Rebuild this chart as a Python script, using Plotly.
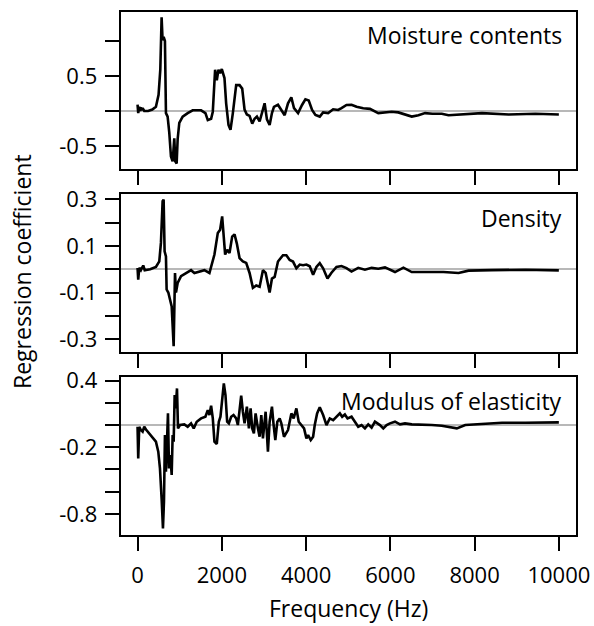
import plotly.graph_objects as go

# ---------------- data ----------------
freq_mc = [0, 16, 40, 60, 80, 100, 120, 159, 250, 350, 436, 499, 540, 571, 594, 619, 650, 674,
           714, 753, 793, 833, 872, 896, 928, 952, 991, 1071, 1190, 1309, 1508, 1611, 1667, 1746,
           1786, 1841, 1881, 1921, 1960, 2000, 2063, 2103, 2159, 2206, 2262, 2341, 2421, 2484,
           2540, 2595, 2659, 2722, 2778, 2833, 2897, 2960, 3016, 3071, 3135, 3190, 3238, 3333,
           3413, 3492, 3571, 3650, 3714, 3810, 3904, 3984, 4063, 4143, 4222, 4325, 4405, 4524,
           4643, 4762, 4841, 4960, 5079, 5198, 5357, 5516, 5714, 5873, 6032, 6190, 6310, 6508,
           6667, 6825, 7000, 7222, 7381, 7698, 8175, 8810, 9444, 10000]
coef_mc = [0.09, -0.03, 0.06, 0.0, 0.05, 0.01, 0.04, 0.0, 0.0, 0.02, 0.06, 0.23, 0.59, 1.34, 1.01,
           1.06, 1.0, -0.03, -0.08, -0.31, -0.65, -0.72, -0.39, -0.72, -0.75, -0.4, -0.17, -0.08,
           -0.03, 0.01, 0.01, -0.03, -0.13, -0.11, -0.01, 0.59, 0.44, 0.59, 0.54, 0.6, 0.47, 0.11,
           -0.2, -0.27, -0.03, 0.37, 0.37, 0.32, 0.02, -0.05, -0.07, -0.18, -0.11, -0.08, -0.15,
           0.01, 0.11, -0.12, -0.2, -0.03, 0.06, 0.09, 0.01, -0.06, 0.11, 0.195, 0.04, -0.03,
           0.086, 0.167, 0.15, 0.014, -0.057, -0.08, -0.02, -0.03, 0.024, 0.014, 0.04, 0.086,
           0.09, 0.06, 0.04, 0.03, -0.03, -0.02, -0.01, -0.02, -0.04, -0.08, -0.06, -0.03, -0.04,
           -0.04, -0.06, -0.045, -0.03, -0.05, -0.04, -0.05]

freq_den = [0, 16, 40, 79, 135, 170, 300, 436, 516, 555, 595, 619, 642, 674, 690, 730, 770, 810,
            857, 889, 912, 952, 1032, 1151, 1270, 1349, 1468, 1587, 1706, 1825, 1905, 1960, 2008,
            2048, 2079, 2127, 2183, 2246, 2302, 2357, 2421, 2500, 2579, 2659, 2738, 2817, 2897,
            2976, 3040, 3135, 3190, 3254, 3333, 3452, 3532, 3611, 3690, 3770, 3849, 3929, 4008,
            4087, 4167, 4246, 4325, 4405, 4508, 4603, 4722, 4841, 4960, 5079, 5238, 5397, 5556,
            5714, 5873, 6111, 6310, 6508, 6905, 7262, 7619, 7857, 8413, 9206, 10000]
coef_den = [0.006, -0.045, 0.006, -0.004, 0.016, -0.004, 0.0, 0.01, 0.034, 0.113, 0.292, 0.299,
            0.077, 0.055, -0.087, -0.10, -0.13, -0.16, -0.33, -0.016, -0.10, -0.059, -0.03,
            -0.016, -0.004, -0.016, -0.01, -0.004, -0.016, 0.063, 0.156, 0.17, 0.227, 0.14, 0.063,
            0.084, 0.07, 0.14, 0.15, 0.11, 0.048, 0.034, 0.027, -0.016, -0.08, -0.07, -0.075,
            -0.004, -0.016, -0.10, -0.04, -0.033, 0.033, 0.06, 0.06, 0.04, 0.033, 0.004, 0.02,
            0.017, 0.02, 0.013, -0.024, 0.01, 0.026, 0.004, -0.04, -0.015, 0.01, 0.014, 0.005,
            -0.01, 0.006, -0.002, 0.006, 0.002, 0.008, -0.012, 0.007, -0.012, -0.012, -0.012,
            -0.016, -0.006, -0.004, -0.002, -0.005]

freq_moe = [0, 16, 40, 79, 120, 159, 200, 278, 357, 436, 492, 532, 571, 603, 627, 650, 674, 698,
            722, 746, 777, 810, 833, 857, 881, 905, 936, 960, 1008, 1111, 1190, 1270, 1333, 1405,
            1508, 1611, 1667, 1706, 1746, 1786, 1825, 1881, 1929, 1968, 2008, 2048, 2087, 2127,
            2167, 2222, 2278, 2341, 2381, 2421, 2460, 2500, 2540, 2595, 2643, 2683, 2722, 2762,
            2802, 2857, 2897, 2937, 2976, 3040, 3095, 3135, 3190, 3230, 3270, 3318, 3373, 3413,
            3476, 3571, 3651, 3706, 3770, 3825, 3889, 3952, 4008, 4048, 4111, 4167, 4206, 4262,
            4325, 4405, 4484, 4563, 4643, 4722, 4802, 4857, 4921, 4984, 5079, 5159, 5238, 5317,
            5397, 5476, 5556, 5635, 5754, 5833, 5913, 5992, 6111, 6230, 6349, 6508, 6746, 6984,
            7222, 7381, 7579, 7778, 8016, 8333, 8651, 9206, 9762, 10000]
coef_moe = [-0.015, -0.30, -0.015, -0.045, -0.06, -0.015, -0.04, -0.075, -0.105, -0.15, -0.24,
            -0.39, -0.66, -0.93, -0.69, -0.09, -0.42, -0.21, 0.105, -0.39, -0.27, -0.45, -0.09,
            -0.15, 0.27, 0.15, 0.33, -0.03, 0.0, 0.006, -0.015, 0.015, -0.03, 0.03, 0.06, 0.075,
            0.135, 0.09, 0.174, 0.06, -0.15, -0.17, 0.03, 0.075, 0.24, 0.375, 0.27, 0.03, 0.015,
            0.075, 0.09, 0.06, 0.0, 0.12, 0.264, 0.12, 0.015, 0.165, -0.03, 0.15, -0.03, -0.075,
            0.105, -0.03, -0.105, 0.09, -0.12, 0.12, -0.24, 0.03, 0.165, 0.0, -0.135, 0.03, 0.06,
            0.015, -0.105, -0.045, 0.105, 0.06, 0.15, 0.03, 0.0, -0.03, -0.12, -0.09, -0.135,
            -0.105, 0.0, 0.105, 0.16, 0.09, 0.0, 0.06, 0.045, 0.075, 0.105, 0.075, 0.095, 0.06,
            0.075, 0.03, -0.015, 0.0, -0.03, 0.006, -0.024, 0.03, 0.0, -0.03, 0.0, 0.015, 0.03,
            0.006, 0.015, 0.006, 0.006, 0.0, -0.006, -0.015, -0.03, 0.0, 0.006, 0.015, 0.021,
            0.021, 0.024, 0.024]

x_ticks = [0, 2000, 4000, 6000, 8000, 10000]
x_ticktext = ["0", "2000", "4000", "6000", "8000", "10000"]

mc_ticks = [-0.5, 0, 0.5, 1.0]
mc_ticktext = ["-0.5", "", "0.5", ""]
den_ticks = [-0.3, -0.2, -0.1, 0, 0.1, 0.2, 0.3]
den_ticktext = ["-0.3", "", "-0.1", "", "0.1", "", "0.3"]
moe_ticks = [-0.8, -0.6, -0.4, -0.2, 0, 0.2, 0.4]
moe_ticktext = ["-0.8", "", "", "-0.2", "", "", "0.4"]

panel_labels = ["Moisture contents", "Density", "Modulus of elasticity"]
x_title = "Frequency (Hz)"
y_title = "Regression coefficient"

# ---------------- figure ----------------
W, H = 594, 626
FONT = "Open Sans"


def fx(p):
    return p / W


def fy(p):
    return 1 - p / H


xdom = [fx(120.7), fx(575.7)]
ydoms = [[fy(169), fy(11.7)], [fy(351.7), fy(194)], [fy(535), fy(377.3)]]
yranges = [[-0.829, 1.419], [-0.354, 0.323], [-0.99, 0.43]]
series = [(freq_mc, coef_mc), (freq_den, coef_den), (freq_moe, coef_moe)]
yticks = [(mc_ticks, mc_ticktext), (den_ticks, den_ticktext), (moe_ticks, moe_ticktext)]
label_y = [35, 218, 401]

fig = go.Figure()
layout = dict(
    width=W, height=H,
    margin=dict(l=0, r=0, t=0, b=0, autoexpand=False),
    paper_bgcolor="white", plot_bgcolor="white",
    showlegend=False,
    font=dict(family=FONT, size=22, color="black"),
)

annotations = []
for i, ((fx_, fy_), (tv, tt)) in enumerate(zip(series, yticks)):
    n = "" if i == 0 else str(i + 1)
    fig.add_trace(go.Scatter(x=fx_, y=fy_, mode="lines",
                             line=dict(color="black", width=2.6),
                             xaxis="x" + n, yaxis="y" + n, hoverinfo="skip"))
    layout["xaxis" + n] = dict(
        domain=xdom, anchor="y" + n, range=[-400, 10400],
        tickvals=x_ticks, ticktext=x_ticktext, showticklabels=(i == 2),
        ticks="outside", ticklen=14, tickwidth=2, tickcolor="black",
        showline=True, mirror=True, linecolor="black", linewidth=2,
        showgrid=False, zeroline=False, ticklabelstandoff=6, automargin=False,
        tickfont=dict(family=FONT, size=22, color="black"),
    )
    layout["yaxis" + n] = dict(
        domain=ydoms[i], anchor="x" + n, range=yranges[i],
        tickvals=tv, ticktext=tt,
        ticks="outside", ticklen=14, tickwidth=2, tickcolor="black",
        showline=True, mirror=True, linecolor="black", linewidth=2,
        showgrid=False, zeroline=True, zerolinecolor="#b8b8b8", zerolinewidth=2,
        ticklabelstandoff=3, automargin=False,
        tickfont=dict(family=FONT, size=22, color="black"),
    )
    annotations.append(dict(
        text=panel_labels[i], x=fx(564), y=fy(label_y[i]), xref="paper", yref="paper",
        xanchor="right", yanchor="middle", showarrow=False,
        font=dict(family=FONT, size=23, color="black"),
    ))

annotations.append(dict(text=x_title, x=fx(348), y=fy(608), xref="paper", yref="paper",
                        xanchor="center", yanchor="middle", showarrow=False,
                        font=dict(family=FONT, size=23, color="black")))
annotations.append(dict(text=y_title, x=fx(22), y=fy(272), xref="paper", yref="paper",
                        xanchor="center", yanchor="middle", showarrow=False, textangle=-90,
                        font=dict(family=FONT, size=23, color="black")))
layout["annotations"] = annotations

fig.update_layout(**layout)
fig.write_html("out.html")
